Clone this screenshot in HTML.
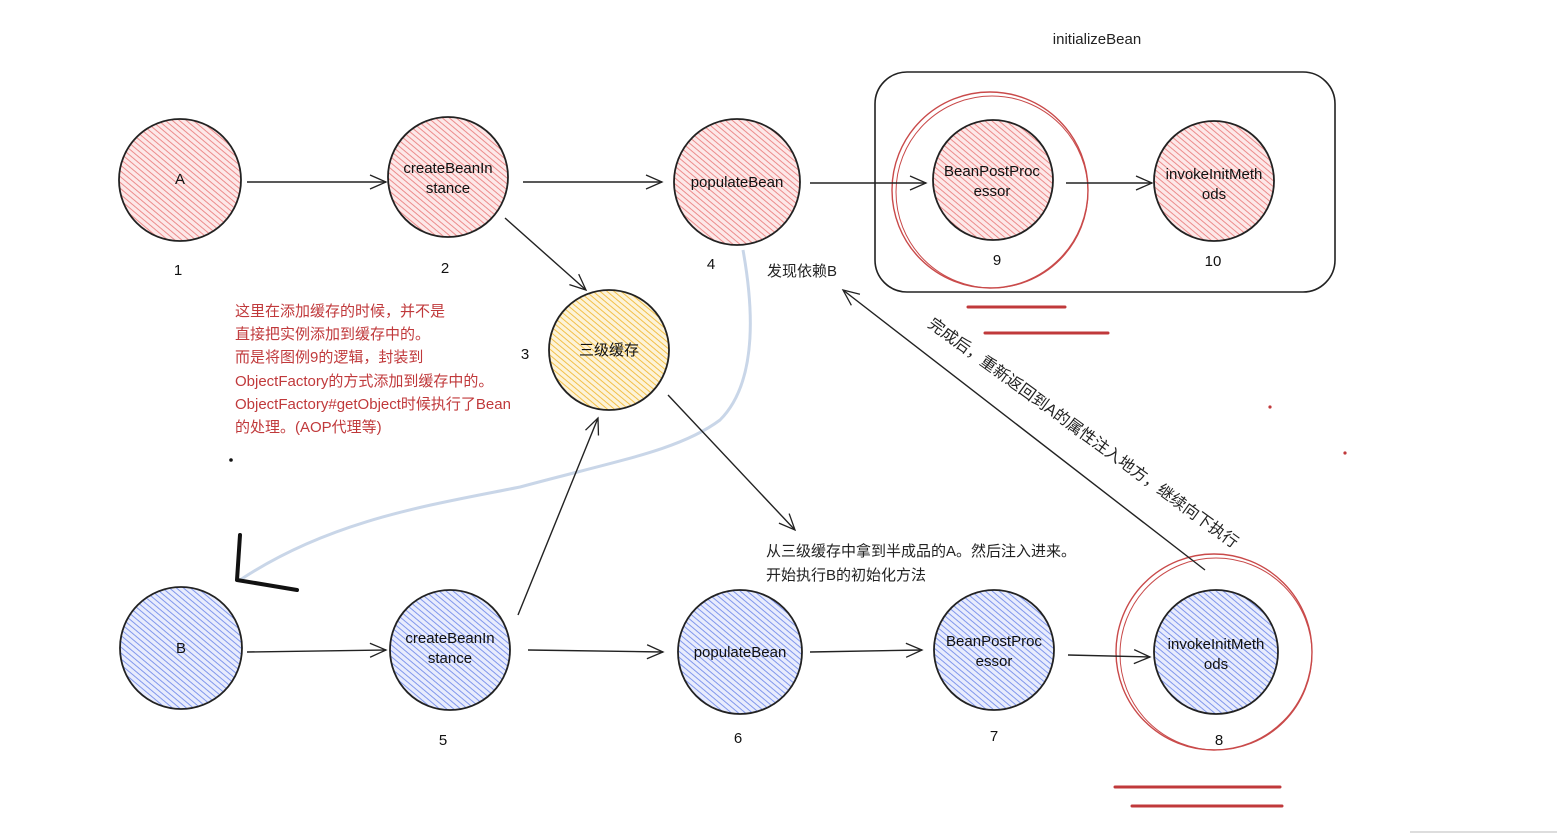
<!DOCTYPE html>
<html><head><meta charset="utf-8"><style>
html,body{margin:0;padding:0;background:#fff;}
svg{display:block;}
text{font-family:"Liberation Sans","Noto Sans CJK SC",sans-serif;}
</style></head><body>
<svg width="1557" height="834" viewBox="0 0 1557 834" xmlns="http://www.w3.org/2000/svg">
<defs>
<pattern id="hr" width="4.5" height="4.5" patternUnits="userSpaceOnUse" patternTransform="rotate(-50)"><rect width="5" height="5" fill="#fde8e8"/><line x1="0" y1="0" x2="0" y2="5" stroke="#ec8c8c" stroke-width="2"/></pattern>
<pattern id="hb" width="4.5" height="4.5" patternUnits="userSpaceOnUse" patternTransform="rotate(-50)"><rect width="5" height="5" fill="#e8ecfd"/><line x1="0" y1="0" x2="0" y2="5" stroke="#8197ec" stroke-width="2"/></pattern>
<pattern id="hy" width="4.5" height="4.5" patternUnits="userSpaceOnUse" patternTransform="rotate(-50)"><rect width="5" height="5" fill="#fdf3d8"/><line x1="0" y1="0" x2="0" y2="5" stroke="#f2c04a" stroke-width="2"/></pattern>
<marker id="ar" markerWidth="20" markerHeight="16" refX="18" refY="8" orient="auto" markerUnits="userSpaceOnUse"><path d="M2,1 L18,8 L2,15" fill="none" stroke="#222" stroke-width="1.3"/></marker>
</defs>

<rect x="875" y="72" width="460" height="220" rx="32" fill="none" stroke="#222" stroke-width="1.6"/>
<text x="1097" y="44" font-size="15" text-anchor="middle" fill="#222">initializeBean</text>

<circle cx="990" cy="190" r="98" fill="none" stroke="#c94a4a" stroke-width="1.4"/>
<circle cx="992" cy="192" r="96" fill="none" stroke="#c94a4a" stroke-width="1"/>
<circle cx="1214" cy="652" r="98" fill="none" stroke="#c94a4a" stroke-width="1.4"/>
<circle cx="1216" cy="654" r="96" fill="none" stroke="#c94a4a" stroke-width="1"/>

<path d="M743,250 C752,300 760,380 720,420 C680,450 620,460 520,487 C430,505 330,520 240,580" fill="none" stroke="#c9d6e8" stroke-width="3"/>
<path d="M240,535 L237,580 L297,590" fill="none" stroke="#111" stroke-width="4" stroke-linecap="round" stroke-linejoin="round"/>

<g stroke="#222" stroke-width="1.8">
<circle cx="180" cy="180" r="61" fill="url(#hr)"/>
<circle cx="448" cy="177" r="60" fill="url(#hr)"/>
<circle cx="737" cy="182" r="63" fill="url(#hr)"/>
<circle cx="993" cy="180" r="60" fill="url(#hr)"/>
<circle cx="1214" cy="181" r="60" fill="url(#hr)"/>
<circle cx="609" cy="350" r="60" fill="url(#hy)"/>
<circle cx="181" cy="648" r="61" fill="url(#hb)"/>
<circle cx="450" cy="650" r="60" fill="url(#hb)"/>
<circle cx="740" cy="652" r="62" fill="url(#hb)"/>
<circle cx="994" cy="650" r="60" fill="url(#hb)"/>
<circle cx="1216" cy="652" r="62" fill="url(#hb)"/>
</g>

<g fill="none" stroke="#222" stroke-width="1.4" marker-end="url(#ar)">
<line x1="247" y1="182" x2="386" y2="182"/>
<line x1="523" y1="182" x2="662" y2="182"/>
<line x1="810" y1="183" x2="926" y2="183"/>
<line x1="1066" y1="183" x2="1152" y2="183"/>
<line x1="505" y1="218" x2="586" y2="290"/>
<line x1="668" y1="395" x2="795" y2="530"/>
<line x1="518" y1="615" x2="598" y2="418"/>
<line x1="247" y1="652" x2="386" y2="650"/>
<line x1="528" y1="650" x2="663" y2="652"/>
<line x1="810" y1="652" x2="922" y2="650"/>
<line x1="1068" y1="655" x2="1150" y2="657"/>
<line x1="1205" y1="570" x2="843" y2="290"/>
</g>

<g stroke="#c0393b" stroke-width="3" stroke-linecap="round">
<line x1="968" y1="307" x2="1065" y2="307"/>
<line x1="985" y1="333" x2="1108" y2="333"/>
<line x1="1115" y1="787" x2="1280" y2="787"/>
<line x1="1132" y1="806" x2="1282" y2="806"/>
</g>
<circle cx="1270" cy="407" r="1.6" fill="#c0393b"/>
<circle cx="1345" cy="453" r="1.6" fill="#c0393b"/>
<circle cx="231" cy="460" r="1.8" fill="#111"/>
<line x1="1410" y1="832" x2="1557" y2="832" stroke="#ddd" stroke-width="2"/>

<g font-size="15" fill="#111" text-anchor="middle">
<text x="180" y="184">A</text>
<text x="448" y="173">createBeanIn</text><text x="448" y="193">stance</text>
<text x="737" y="187">populateBean</text>
<text x="992" y="176">BeanPostProc</text><text x="992" y="196">essor</text>
<text x="1214" y="179">invokeInitMeth</text><text x="1214" y="199">ods</text>
<text x="609" y="355">三级缓存</text>
<text x="181" y="653">B</text>
<text x="450" y="643">createBeanIn</text><text x="450" y="663">stance</text>
<text x="740" y="657">populateBean</text>
<text x="994" y="646">BeanPostProc</text><text x="994" y="666">essor</text>
<text x="1216" y="649">invokeInitMeth</text><text x="1216" y="669">ods</text>
<text x="178" y="275">1</text><text x="445" y="273">2</text><text x="711" y="269">4</text>
<text x="997" y="265">9</text><text x="1213" y="266">10</text><text x="525" y="359">3</text>
<text x="443" y="745">5</text><text x="738" y="743">6</text><text x="994" y="741">7</text><text x="1219" y="745">8</text>
</g>

<text x="767" y="276" font-size="15" fill="#222">发现依赖B</text>
<g font-size="15" fill="#c0393b">
<text x="235" y="316">这里在添加缓存的时候，并不是</text>
<text x="235" y="339">直接把实例添加到缓存中的。</text>
<text x="235" y="362">而是将图例9的逻辑，封装到</text>
<text x="235" y="386">ObjectFactory的方式添加到缓存中的。</text>
<text x="235" y="409">ObjectFactory#getObject时候执行了Bean</text>
<text x="235" y="432">的处理。(AOP代理等)</text>
</g>
<g font-size="15" fill="#222">
<text x="766" y="556">从三级缓存中拿到半成品的A。然后注入进来。</text>
<text x="766" y="580">开始执行B的初始化方法</text>
</g>
<text x="0" y="0" font-size="16" fill="#222" transform="translate(927,326) rotate(36)">完成后，重新返回到A的属性注入地方，继续向下执行</text>
</svg>
</body></html>
